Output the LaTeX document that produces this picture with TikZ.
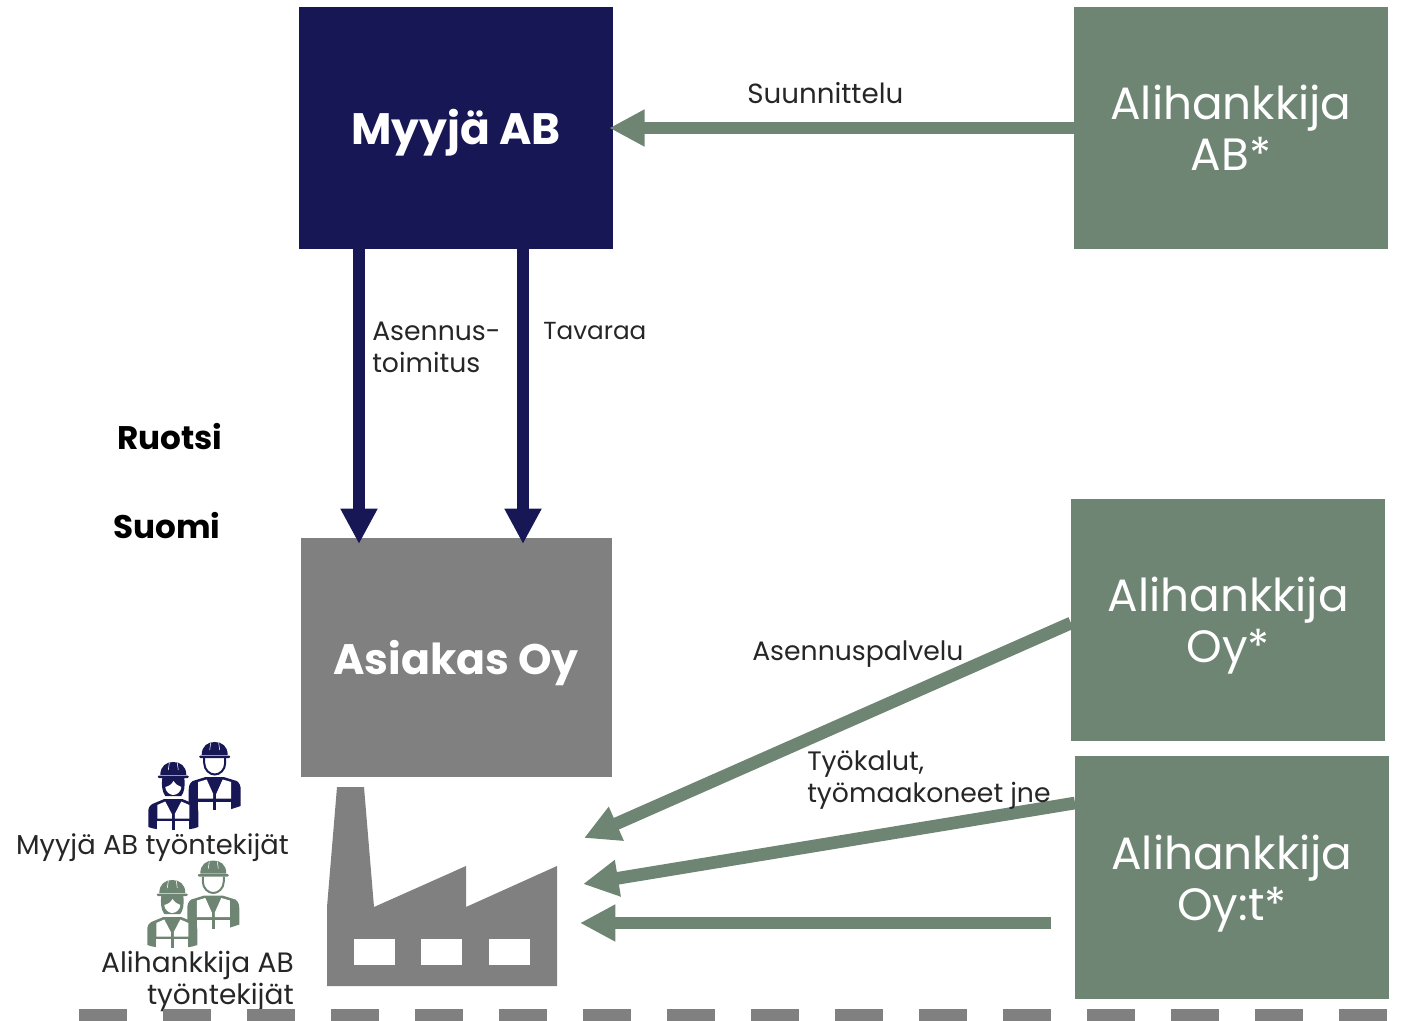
\documentclass[tikz,border=0pt]{standalone}
\usepackage{fontspec}
\setmainfont{Poppins}
\usetikzlibrary{arrows.meta,positioning}
\definecolor{navy}{HTML}{171755}
\definecolor{moss}{HTML}{6F8573}
\definecolor{midgray}{HTML}{808080}
\tikzset{
    boxsty/.style={rectangle,minimum width=235.5pt,minimum height=181.5pt,inner sep=0pt,align=center,text=white,text depth=0pt},
    substy/.style={boxsty,fill=moss,font=\fontsize{34}{38.2}\selectfont},
    mainsty/.style={boxsty,font=\fontsize{33}{38}\selectfont\bfseries},
    lblsty/.style={inner sep=0pt,align=left,anchor=west,font=\fontsize{20}{24}\selectfont,text=black!85},
    cntsty/.style={inner sep=0pt,font=\fontsize{24.5}{28}\selectfont\bfseries},
    navyarr/.style={draw=navy,line width=9pt,-{Triangle[length=26.5pt,width=26pt]}},
    mossarr/.style={draw=moss,line width=9.5pt,-{Triangle[length=26.5pt,width=26pt]}},
    pics/manpic/.style={code={
      \fill[#1,rounded corners=0.8pt] (-15.5,-1.5) rectangle (15.5,1);
      \fill[#1] (-13,-2) .. controls (-13,-11) and (-7,-15) .. (0,-15) .. controls (7,-15) and (13,-11) .. (13,-2) -- cycle;
      \draw[white,line width=0.4pt] (-4,-14) -- (-5,-7) (4,-14) -- (5,-7);
      \draw[#1,line width=1.5pt] (-10.5,1) -- (-10.5,6) .. controls (-10.5,13) and (-5,17.5) .. (0,17.5) .. controls (5,17.5) and (10.5,13) .. (10.5,6) -- (10.5,1);
      \fill[#1] (-9,20) -- (9,20) -- (22,24) .. controls (25,26) and (26,29) .. (26,33) -- (26,49) .. controls (23,50) and (20,51) .. (17,52) -- (-17,52) .. controls (-20,51) and (-23,50) .. (-26,49) -- (-26,33) .. controls (-26,29) and (-25,26) .. (-22,24) -- cycle;
      \fill[white] (-16.5,25) -- (-8,22.5) -- (-1.5,37) -- (-1.5,41.5) -- (-16.5,41.5) -- cycle;
      \fill[white] (16.5,25) -- (8,22.5) -- (1.5,37) -- (1.5,41.5) -- (16.5,41.5) -- cycle;
      \fill[white] (-16.5,44.5) rectangle (-1.5,53);
      \fill[white] (16.5,44.5) rectangle (1.5,53);
      \fill[#1] (-1.5,44) rectangle (1.5,53);
    }},
    pics/womanpic/.style={code={
      \fill[#1,rounded corners=0.8pt] (-15.5,-1.5) rectangle (15.5,1);
      \fill[#1] (-13,-2) .. controls (-13,-11) and (-7,-15) .. (0,-15) .. controls (7,-15) and (13,-11) .. (13,-2) -- cycle;
      \draw[white,line width=0.4pt] (-4,-14) -- (-5,-7) (4,-14) -- (5,-7);
      \fill[#1] (-11,1) -- (11,1) .. controls (12,9) and (11,15) .. (8,19) -- (-8,19) .. controls (-11,15) and (-12,9) .. (-11,1) -- cycle;
      \fill[white] (-8,10) .. controls (-4,9) and (-1,7) .. (0,4) .. controls (2,7) and (5,9) .. (8,10) .. controls (8,14) and (4,18) .. (0,18) .. controls (-4,18) and (-8,14) .. (-8,10) -- cycle;
      \fill[#1] (-9,22) -- (9,22) -- (21,27) .. controls (24,29) and (25,31) .. (25,35) -- (25,50) .. controls (22,51) and (19,52) .. (17,52) -- (-17,52) .. controls (-19,52) and (-22,51) .. (-25,50) -- (-25,35) .. controls (-25,31) and (-24,29) .. (-21,27) -- cycle;
      \fill[white] (-16,28) -- (-8,24.5) -- (-1.5,37) -- (-1.5,41.5) -- (-16,41.5) -- cycle;
      \fill[white] (16,28) -- (8,24.5) -- (1.5,37) -- (1.5,41.5) -- (16,41.5) -- cycle;
      \fill[white] (-16,44) rectangle (-1.5,53);
      \fill[white] (16,44) rectangle (1.5,53);
      \fill[#1] (-1.5,44) rectangle (1.5,53);
    }},
}
\newcommand{\myunit}{0.75pt}
\begin{document}
\begin{tikzpicture}[x=\myunit,y=-\myunit]
\useasboundingbox (0,0) rectangle (1404,1021);
% boxes
\node (myyja) [mainsty,fill=navy] at (456,128) {\raisebox{1pt}{Myyjä AB}};
\node (asiakas) [mainsty,fill=midgray,font=\fontsize{32}{38}\selectfont\bfseries,minimum width=233pt,minimum height=179pt] at (456.2,657.5) {Asiakas Oy};
\node (subab) [substy] at (1231,128) {Alihankkija\\AB*};
\node (suboy) [substy] at (1228.2,620) {Alihankkija\\Oy*};
\node (suboyt) [substy,minimum height=182pt] at (1232,877.5) {Alihankkija\\Oy:t*};
% connectors
\coordinate (tipone) at (359,544);
\coordinate (tiptwo) at (523,544);
\coordinate (startone) at (359,249);
\coordinate (starttwo) at (523,249);
\coordinate (tipa) at (584,838);
\coordinate (tipb) at (583,884);
\coordinate (tipc) at (580,923);
\coordinate (starta) at (1071,623);
\coordinate (startb) at (1075,803);
\coordinate (startc) at (1051,923);
\draw[navyarr] (startone) -- (tipone);
\draw[navyarr] (starttwo) -- (tiptwo);
\draw[mossarr,shorten >=-3pt] (subab.west) -- (myyja.east);
\draw[mossarr] (starta) -- (tipa);
\draw[mossarr] (startb) -- (tipb);
\draw[mossarr] (startc) -- (tipc);
% labels
\node (lbldesign) [lblsty,font=\fontsize{20.8}{24}\selectfont] at (747,93) {Suunnittelu};
\node (lblinst) [lblsty] at (372,347) {Asennus-\\toimitus};
\node (lblgoods) [lblsty,font=\fontsize{18.5}{24}\selectfont] at (543,331) {Tavaraa};
\node (lblservice) [lblsty] at (752,654) {Asennuspalvelu};
\node (lbltools) [lblsty] at (807,780) {Työkalut,\\työmaakoneet jne};
\node (ruotsi) [cntsty] at (170,437) {Ruotsi};
\node (suomi) [cntsty] at (167,526) {Suomi};
\node (lblown) [lblsty,anchor=east,font=\fontsize{20.5}{24}\selectfont] at (289,848) {Myyjä AB työntekijät};
\node (lblsub) [lblsty,anchor=east,align=right,font=\fontsize{21}{24}\selectfont] at (294,981) {Alihankkija AB\\työntekijät};
% workers
\pic (ownman) at (214.7,757) {manpic=navy};
\pic (ownwoman) at (173.3,777) {womanpic=navy};
\pic (subman) at (213.3,875.5) {manpic=moss};
\pic (subwoman) at (172.3,895) {womanpic=moss};
% factory
\fill[midgray] (327,986) -- (327,907) -- (337,787) -- (364,787) -- (374,907) -- (466,866) -- (466,907) -- (557,866) -- (557,986) -- cycle;
\foreach \x in {354,421,489}
  \fill[white] (\x,939) rectangle ++(41,26);
% border
\coordinate (borderl) at (79,1015);
\coordinate (borderr) at (1387,1015);
\draw[midgray,line width=9pt,dash pattern=on 36pt off 27pt] (borderl) -- (borderr);
\end{tikzpicture}
\end{document}
